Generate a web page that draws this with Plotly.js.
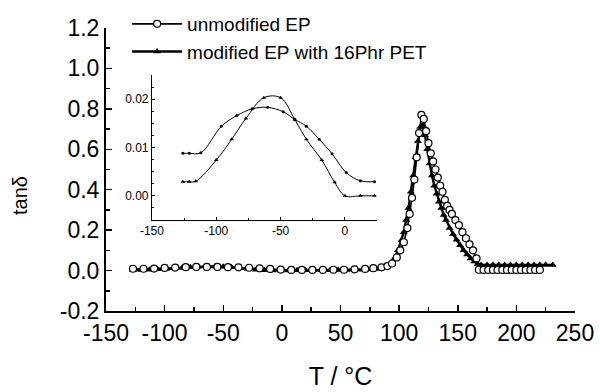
<!DOCTYPE html>
<html>
<head>
<meta charset="utf-8">
<script src="https://cdn.plot.ly/plotly-3.0.1.min.js"></script>
<style>html,body{margin:0;padding:0;background:#fff;}#chart{width:600px;height:392px;}</style>
</head>
<body>
<div id="chart"></div>
<script>
// Main plot: unmodified EP (open circles)
var unmodT = [-127,-118,-109,-100,-91,-82,-73,-64,-55,-46,-37,-28,-19,-10,-1,8,17,26,35,44,53,62,71,78,85,90,94,98,101,104,107,109,111,113,115,117,119,121,123,125,127,129,131,133,135,137,139,141,143,145,148,151,154,157,160,163,166,168,172,176,180,184,188,192,196,200,204,208,212,216,220];
var unmodTan = [0.009,0.009,0.010,0.013,0.015,0.017,0.018,0.018,0.018,0.017,0.016,0.014,0.011,0.008,0.005,0.003,0.003,0.003,0.003,0.004,0.004,0.006,0.008,0.012,0.016,0.022,0.035,0.065,0.10,0.14,0.21,0.28,0.36,0.45,0.56,0.68,0.77,0.75,0.69,0.63,0.58,0.54,0.50,0.46,0.42,0.39,0.35,0.32,0.30,0.28,0.25,0.225,0.19,0.16,0.13,0.10,0.06,0.004,0.003,0.003,0.003,0.003,0.003,0.003,0.003,0.003,0.003,0.003,0.003,0.003,0.003];

// Main plot: modified EP with 16Phr PET (filled triangles)
var modT = [-127,-120,-113,-106,-99,-92,-85,-78,-71,-64,-57,-50,-43,-36,-29,-22,-15,-8,-1,6,13,20,27,34,41,48,55,62,69,76,83,88,92,96,99,102,104,106,108,110,112,114,116,118,120,122,124,126,128,130,132,134,136,138,140,143,146,149,152,155,158,161,164,167,170,175,180,185,190,195,200,205,210,215,220,225,231];
var modTan = [0.003,0.003,0.004,0.006,0.008,0.011,0.014,0.017,0.019,0.020,0.020,0.019,0.016,0.012,0.008,0.004,0.002,0.000,0.000,0.000,0.001,0.001,0.001,0.002,0.002,0.003,0.003,0.004,0.004,0.005,0.008,0.015,0.03,0.06,0.10,0.15,0.19,0.25,0.31,0.39,0.47,0.56,0.64,0.71,0.72,0.67,0.60,0.53,0.47,0.42,0.38,0.34,0.31,0.275,0.25,0.21,0.18,0.152,0.125,0.10,0.08,0.06,0.045,0.033,0.028,0.028,0.028,0.028,0.028,0.028,0.028,0.028,0.028,0.028,0.028,0.028,0.028];

// Inset data
var insUnmodT = [-126,-121,-112,-96,-84,-72,-60,-48,-39,-30,-20,-10,1,12,23];
var insUnmodTan = [0.0088,0.0088,0.0089,0.0144,0.0166,0.0180,0.0183,0.0174,0.0158,0.0144,0.0117,0.0087,0.0048,0.0031,0.0029];
var insModT = [-126,-121,-116,-100,-88,-77,-63,-50,-39,-30,-18,-8,0,12,23];
var insModTan = [0.0029,0.0029,0.0030,0.0074,0.0117,0.0160,0.0203,0.0203,0.0158,0.0117,0.0074,0.0028,0.0000,0.0000,0.0000];

// Tick labels
var mainXTicks = [-150,-100,-50,0,50,100,150,200,250];
var mainYTicks = [-0.2,0.0,0.2,0.4,0.6,0.8,1.0,1.2];
var insXTicks = [-150,-100,-50,0];
var insYTicks = [0.00,0.01,0.02];

var FONT = 'Liberation Sans, Arial, sans-serif';

var traces = [
  {x: modT, y: modTan, type: 'scatter', mode: 'lines+markers', name: 'modified EP with 16Phr PET',
   legendrank: 2,
   line: {color: '#000', width: 2.4},
   marker: {symbol: 'triangle-up', size: 7, color: '#000'}},
  {x: unmodT, y: unmodTan, type: 'scatter', mode: 'lines+markers', name: 'unmodified EP',
   legendrank: 1,
   line: {color: '#000', width: 1.6},
   marker: {symbol: 'circle', size: 7, color: '#fff', line: {color: '#000', width: 1.2}}},
  {x: insUnmodT, y: insUnmodTan, xaxis: 'x2', yaxis: 'y2', type: 'scatter', mode: 'lines+markers',
   showlegend: false, line: {color: '#000', width: 1, shape: 'spline', smoothing: 1},
   marker: {symbol: 'circle', size: 3, color: '#000'}},
  {x: insModT, y: insModTan, xaxis: 'x2', yaxis: 'y2', type: 'scatter', mode: 'lines+markers',
   showlegend: false, line: {color: '#000', width: 1, shape: 'spline', smoothing: 1},
   marker: {symbol: 'triangle-up', size: 4, color: '#000'}}
];

var layout = {
  width: 600, height: 392,
  margin: {l: 106, r: 25, t: 28, b: 81, autoexpand: false},
  paper_bgcolor: '#fff', plot_bgcolor: '#fff',
  font: {family: FONT, color: '#000'},
  showlegend: true,
  legend: {x: 0.045, xanchor: 'left', y: 1.0813, yanchor: 'top', bgcolor: 'rgba(0,0,0,0)',
           font: {size: 19, family: FONT}, itemwidth: 50, tracegroupgap: 0},
  annotations: [
    {text: 'tanδ', xref: 'paper', yref: 'paper', x: -0.1834, y: 0.41, xanchor: 'center', yanchor: 'middle',
     textangle: -90, showarrow: false, font: {size: 20, family: FONT, color: '#000'}}
  ],
  xaxis: {range: [-150, 250], tickvals: mainXTicks, ticktext: mainXTicks.map(String),
          showgrid: false, zeroline: false, showline: true, linecolor: '#000', linewidth: 2,
          ticks: 'inside', ticklen: 6, tickwidth: 1.5, tickcolor: '#000',
          minor: {dtick: 25, ticks: 'inside', ticklen: 4, tickwidth: 1.5, tickcolor: '#000', showgrid: false},
          tickfont: {size: 23, family: FONT},
          title: {text: 'T / °C', font: {size: 25, family: FONT}, standoff: 23}},
  yaxis: {range: [-0.2, 1.2], tickvals: mainYTicks, ticktext: mainYTicks.map(function(v){return v.toFixed(1);}),
          showgrid: false, zeroline: false, showline: true, linecolor: '#000', linewidth: 2,
          ticks: 'inside', ticklen: 6, tickwidth: 1.5, tickcolor: '#000',
          minor: {dtick: 0.1, ticks: 'inside', ticklen: 4, tickwidth: 1.5, tickcolor: '#000', showgrid: false},
          tickfont: {size: 23, family: FONT}},
  xaxis2: {domain: [0.098, 0.578], anchor: 'y2', range: [-150, 25], tickvals: insXTicks,
           ticktext: insXTicks.map(String),
           showgrid: false, zeroline: false, showline: true, linecolor: '#000', linewidth: 1,
           ticks: 'inside', ticklen: 3, tickwidth: 1, tickcolor: '#000',
           minor: {dtick: 25, ticks: 'inside', ticklen: 2, tickwidth: 1, tickcolor: '#000', showgrid: false},
           tickfont: {size: 12, family: FONT}},
  yaxis2: {domain: [0.3216, 0.834], anchor: 'x2', range: [-0.005, 0.025], tickvals: insYTicks,
           ticktext: insYTicks.map(function(v){return v.toFixed(2);}),
           showgrid: false, zeroline: false, showline: true, linecolor: '#000', linewidth: 1,
           ticks: 'inside', ticklen: 3, tickwidth: 1, tickcolor: '#000',
           minor: {dtick: 0.0025, ticks: 'inside', ticklen: 2, tickwidth: 1, tickcolor: '#000', showgrid: false},
           tickfont: {size: 12, family: FONT}}
};

Plotly.newPlot('chart', traces, layout, {staticPlot: true, displayModeBar: false});
</script>
</body>
</html>
